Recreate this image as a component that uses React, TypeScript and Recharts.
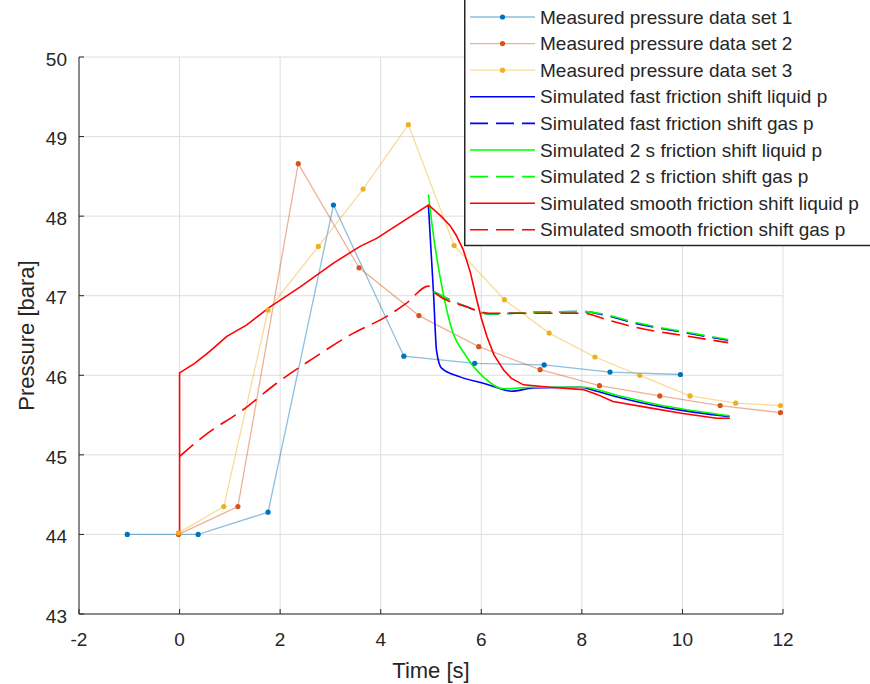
import React from 'react';
import { LineChart, Line, XAxis, YAxis, CartesianGrid, Legend, Label } from 'recharts';

// ---------- axis ticks ----------
const xTicks = [-2, 0, 2, 4, 6, 8, 10, 12];
const yTicks = [43, 44, 45, 46, 47, 48, 49, 50];

// ---------- measured data [time s, pressure bara] ----------
const measured1: number[][] = [
  [-1.04, 44.0], [0.37, 44.0], [1.76, 44.28], [3.06, 48.14], [4.46, 46.24],
  [5.87, 46.15], [7.25, 46.13], [8.56, 46.04], [9.96, 46.01],
];
const measured2: number[][] = [
  [-0.02, 44.0], [1.16, 44.35], [2.36, 48.66], [3.57, 47.35], [4.76, 46.75],
  [5.95, 46.36], [7.17, 46.07], [8.35, 45.87], [9.55, 45.74], [10.75, 45.62], [11.95, 45.53],
];
const measured3: number[][] = [
  [-0.02, 44.02], [0.88, 44.35], [1.76, 46.82], [2.76, 47.62], [3.65, 48.34], [4.55, 49.15],
  [5.46, 47.63], [6.46, 46.95], [7.35, 46.53], [8.26, 46.23], [9.15, 46.0], [10.15, 45.74],
  [11.06, 45.65], [11.95, 45.62],
];

// ---------- simulated data ----------
const fastLiquid: number[][] = [
  [4.95, 48.12], [5.05, 47.03], [5.11, 46.31], [5.21, 46.09], [5.58, 45.98], [6.04, 45.9],
  [6.44, 45.82], [6.6, 45.8], [7.03, 45.84], [7.96, 45.85], [8.3, 45.8], [8.69, 45.73],
  [9.69, 45.59], [10.94, 45.48],
];
const fastGas: number[][] = [
  [5.05, 47.05], [5.71, 46.86], [6.17, 46.77], [7.03, 46.79], [8.03, 46.8], [8.49, 46.75],
  [9.02, 46.66], [10.01, 46.54], [10.91, 46.44],
];
const twoSecLiquid: number[][] = [
  [4.95, 48.27], [5.05, 47.75], [5.18, 47.24], [5.38, 46.65], [5.71, 46.23], [6.04, 45.98],
  [6.44, 45.83], [7.03, 45.85], [8.03, 45.85], [8.69, 45.75], [9.69, 45.61], [10.94, 45.49],
];
const twoSecGas: number[][] = [
  [5.05, 47.05], [5.71, 46.86], [6.17, 46.77], [7.03, 46.79], [8.03, 46.8], [8.49, 46.76],
  [9.02, 46.67], [10.01, 46.55], [10.91, 46.45],
];
const smoothLiquid: number[][] = [
  [0, 44.0], [0, 46.03], [0.3, 46.15], [0.6, 46.3], [0.94, 46.49], [1.33, 46.63], [1.8, 46.86],
  [2.4, 47.11], [3.06, 47.41], [3.59, 47.62], [3.92, 47.72], [4.38, 47.91], [4.95, 48.14],
  [5.2, 48.0], [5.38, 47.88], [5.5, 47.76], [5.64, 47.58], [5.78, 47.3], [5.91, 46.95],
  [6.0, 46.72], [6.11, 46.49], [6.25, 46.26], [6.44, 46.07], [6.6, 45.96], [6.84, 45.88],
  [7.37, 45.85], [8.03, 45.82], [8.3, 45.76], [8.62, 45.67], [9.35, 45.59], [10.01, 45.52],
  [10.68, 45.46], [10.94, 45.46],
];
const smoothGas: number[][] = [
  [0, 44.98], [0.47, 45.23], [1.27, 45.57], [1.93, 45.9], [2.6, 46.19], [3.46, 46.53],
  [4.12, 46.74], [4.5, 46.9], [4.95, 47.12], [5.05, 47.05], [5.71, 46.86], [6.17, 46.78],
  [7.03, 46.78], [8.03, 46.78], [8.49, 46.7], [9.02, 46.61], [10.01, 46.5], [10.91, 46.41],
];

const toRows = (pts: number[][]) => pts.map(([t, p]) => ({ t, p }));

type Series = {
  name: string;
  pts: number[][];
  color: string;
  dashed?: boolean;
  measured?: boolean;
  curve?: 'linear' | 'monotone';
};

const series: Series[] = [
  { name: 'Measured pressure data set 1', pts: measured1, color: '#0072BD', measured: true },
  { name: 'Measured pressure data set 2', pts: measured2, color: '#D95319', measured: true },
  { name: 'Measured pressure data set 3', pts: measured3, color: '#EDB120', measured: true },
  { name: 'Simulated fast friction shift liquid p', pts: fastLiquid, color: '#0000FF', curve: 'monotone' },
  { name: 'Simulated fast friction shift gas p', pts: fastGas, color: '#0000FF', dashed: true, curve: 'monotone' },
  { name: 'Simulated 2 s friction shift liquid p', pts: twoSecLiquid, color: '#00FF00', curve: 'monotone' },
  { name: 'Simulated 2 s friction shift gas p', pts: twoSecGas, color: '#00FF00', dashed: true, curve: 'monotone' },
  { name: 'Simulated smooth friction shift liquid p', pts: smoothLiquid, color: '#FF0000' },
  { name: 'Simulated smooth friction shift gas p', pts: smoothGas, color: '#FF0000', dashed: true, curve: 'monotone' },
];

const FONT = '"Liberation Sans", Arial, Helvetica, sans-serif';
const TEXT = '#262626';
const DASH = '18 8';

const renderLegend = () => (
  <svg width={406} height={250} style={{ display: 'block' }}>
    <rect x={0.75} y={-10} width={420} height={255.5} fill="#ffffff" stroke={TEXT} strokeWidth={1.5} />
    {series.map((s, i) => {
      const cy = 17 + i * 26.6;
      return (
        <g key={s.name}>
          <line
            x1={6}
            x2={71}
            y1={cy}
            y2={cy}
            stroke={s.color}
            strokeOpacity={s.measured ? 0.45 : 1}
            strokeWidth={s.measured ? 1.3 : 1.6}
            strokeDasharray={s.dashed ? DASH : undefined}
          />
          {s.measured && <circle cx={38.5} cy={cy} r={2.6} fill={s.color} />}
          <text x={76} y={cy} dy="0.35em" fontSize={19} fill={TEXT} fontFamily={FONT}>
            {s.name}
          </text>
        </g>
      );
    })}
  </svg>
);

const XTitle = (props: any) => {
  const vb = props.viewBox || { x: 0, y: 0, width: 0, height: 0 };
  return (
    <text x={vb.x + vb.width / 2} y={vb.y + vb.height - 6} textAnchor="middle" fontSize={22} fill={TEXT} fontFamily={FONT}>
      Time [s]
    </text>
  );
};

const YTitle = (props: any) => {
  const vb = props.viewBox || { x: 0, y: 0, width: 0, height: 0 };
  const cx = vb.x + 26;
  const cy = vb.y + vb.height / 2;
  return (
    <text
      x={cx}
      y={cy}
      dy="0.35em"
      transform={`rotate(-90 ${cx} ${cy})`}
      textAnchor="middle"
      fontSize={22}
      fill={TEXT}
      fontFamily={FONT}
    >
      Pressure [bara]
    </text>
  );
};

export default function App() {
  return (
    <div style={{ position: 'absolute', left: 0, top: 0, width: 870, height: 684, background: '#fff', fontFamily: FONT }}>
      <LineChart width={870} height={684} margin={{ top: 57, right: 87, bottom: 0, left: 0 }}>
        <CartesianGrid stroke="#dedede" strokeWidth={1} />
        <XAxis
          dataKey="t"
          type="number"
          domain={[-2, 12]}
          ticks={xTicks}
          allowDataOverflow
          height={70}
          stroke={TEXT}
          tickSize={-5}
          tickMargin={24}
          tick={{ fontSize: 19, fill: TEXT, fontFamily: FONT }}
          label={<Label content={XTitle} />}
        />
        <YAxis
          dataKey="p"
          type="number"
          domain={[43, 50]}
          ticks={yTicks}
          allowDataOverflow
          width={79}
          stroke={TEXT}
          tickSize={-5}
          tickMargin={17}
          tick={{ fontSize: 19, fill: TEXT, fontFamily: FONT, dy: 2 }}
          label={<Label content={YTitle} />}
        />
        <Legend
          layout="vertical"
          align="center"
          verticalAlign="middle"
          content={renderLegend}
          wrapperStyle={{ position: 'absolute', left: 464, top: 0, width: 406, height: 250 }}
        />
        {series.map((s) => (
          <Line
            key={s.name}
            name={s.name}
            data={toRows(s.pts)}
            dataKey="p"
            type={s.curve || 'linear'}
            stroke={s.color}
            strokeOpacity={s.measured ? 0.45 : 1}
            strokeWidth={s.measured ? 1.3 : 1.6}
            strokeDasharray={s.dashed ? DASH : undefined}
            dot={s.measured ? { r: 2.6, fill: s.color, stroke: 'none', fillOpacity: 1 } : false}
            activeDot={false}
            legendType="line"
            isAnimationActive={false}
          />
        ))}
      </LineChart>
    </div>
  );
}
